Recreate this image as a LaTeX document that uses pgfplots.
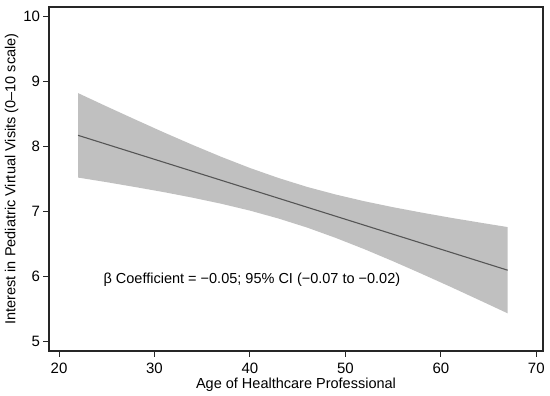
\documentclass[border=0pt]{standalone}
\usepackage{fontspec}
\setmainfont{Liberation Sans}
\usepackage{pgfplots}
\pgfplotsset{compat=1.18}
\definecolor{bandgray}{RGB}{192,192,192}
\definecolor{linegray}{RGB}{85,85,85}
\begin{document}
\begin{tikzpicture}
\begin{axis}[
  at={(0,0)}, anchor=south west,
  scale only axis,
  width=494bp, height=344bp,
  xmin=18.95, xmax=70.7,
  ymin=4.86, ymax=10.14,
  xtick={20,30,40,50,60,70},
  ytick={5,6,7,8,9,10},
  xtick pos=bottom, ytick pos=left,
  tick align=outside,
  major tick length=5.5bp,
  axis line style={line width=1.1pt, black!85},
  tick style={line width=0.9pt, black!85},
  /pgf/number format/assume math mode=true,
  ticklabel style={font=\fontsize{15bp}{16bp}\selectfont},
  xticklabel style={yshift=-3bp},
  label style={font=\fontsize{14.5bp}{16bp}\selectfont},
  xlabel={Age of Healthcare Professional},
  ylabel={Interest in Pediatric Virtual Visits (0–10 scale)},
  xlabel style={yshift=2bp},
  ylabel style={yshift=-2bp},
]
\addplot[fill=bandgray, draw=none] coordinates {
(22,8.818) (25,8.613) (28,8.412) (31,8.214) (34,8.023) (37,7.840)
(40,7.669) (43,7.515) (46,7.378) (49,7.261) (52,7.158) (55,7.067)
(58,6.984) (61,6.906) (64,6.833) (67,6.762)
(67,5.438) (64,5.643) (61,5.846) (58,6.044) (55,6.237) (52,6.422)
(49,6.595) (46,6.754) (43,6.893) (40,7.015) (37,7.120) (34,7.213)
(31,7.298) (28,7.376) (25,7.451) (22,7.522)} -- cycle;
\addplot[linegray, line width=1.1pt] coordinates {(22,8.170) (67,6.100)};
\node[anchor=west, font=\fontsize{14.5bp}{16bp}\selectfont] at (axis cs:24.3,5.95)
  {β Coefficient = −0.05; 95\% CI (−0.07 to −0.02)};
\end{axis}
\path[use as bounding box] (-49bp,-43bp) rectangle (501bp,351bp);
\end{tikzpicture}
\end{document}
